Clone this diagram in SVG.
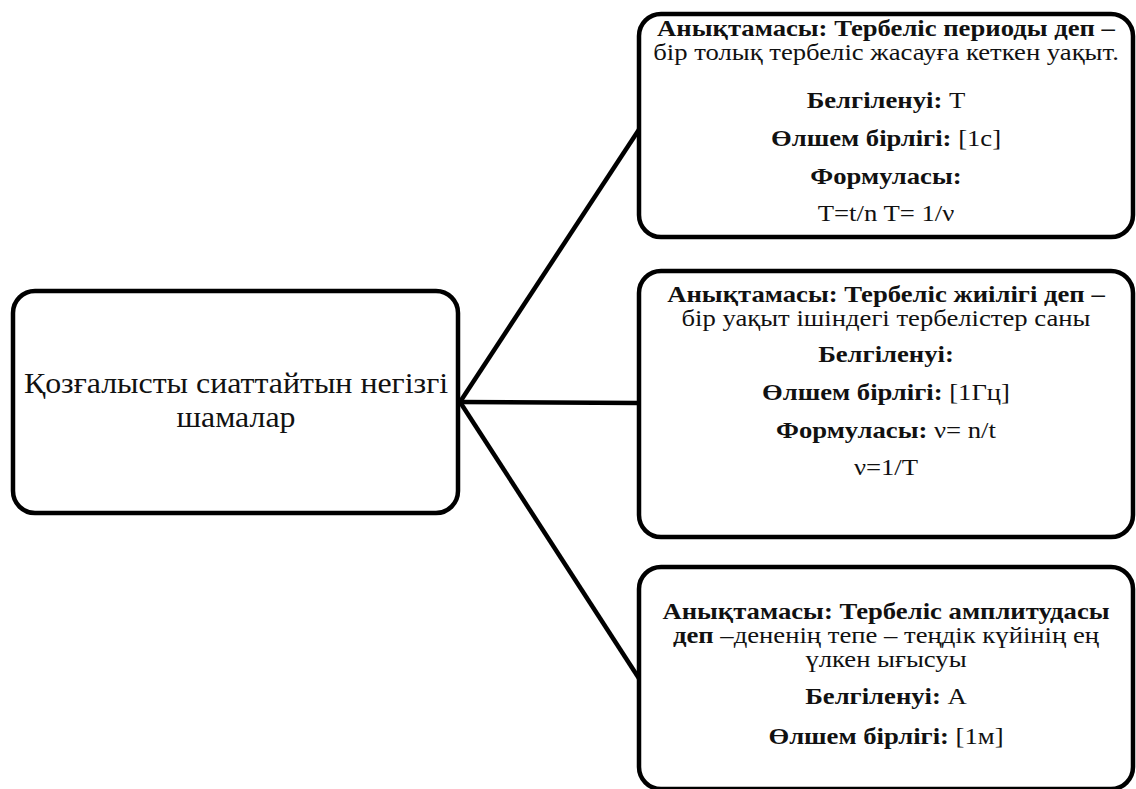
<svg xmlns="http://www.w3.org/2000/svg" width="1136" height="789" viewBox="0 0 1136 789">
<style>
.box{fill:#fff;stroke:#000;stroke-width:4.5}
.ln{stroke:#000;stroke-width:4.5;fill:none}
.t{font-family:"Liberation Serif","Times New Roman",serif;fill:#111;text-anchor:middle}
.s{font-size:23px}
.m{font-size:29px}
.b{font-weight:bold}
</style>
<rect width="1136" height="789" fill="#fff"/>
<g id="connectors">
<path class="ln" d="M460 402 L640 128"/>
<path class="ln" d="M460 402 L639 403"/>
<path class="ln" d="M460 402 L640 680"/>
</g>
<g id="node-main">
<rect class="box" x="13" y="291" width="445" height="222" rx="22"/>
<g class="t m" transform="matrix(1.1 0 0 1 -23.6 0)">
<text x="236" y="393">Қозғалысты сиаттайтын негізгі</text>
<text x="236" y="427">шамалар</text>
</g>
</g>
<g id="node-period">
<rect class="box" x="639" y="14" width="494" height="223" rx="22"/>
<g class="t s" transform="matrix(1.16 0 0 1 -141.76 0)">
<text x="886" y="36" class="b">Анықтамасы: Тербеліс периоды деп –</text>
<text x="886" y="60">бір толық тербеліс жасауға кеткен уақыт.</text>
<text x="886" y="108"><tspan class="b">Белгіленуі:</tspan> Т</text>
<text x="886" y="146"><tspan class="b">Өлшем бірлігі:</tspan> [1с]</text>
<text x="886" y="184" class="b">Формуласы:</text>
<text x="886" y="221">T=t/n T= 1/ν</text>
</g>
</g>
<g id="node-frequency">
<rect class="box" x="639" y="271" width="494" height="266" rx="22"/>
<g class="t s" transform="matrix(1.16 0 0 1 -141.76 0)">
<text x="886" y="302" class="b">Анықтамасы: Тербеліс жиілігі деп –</text>
<text x="886" y="326">бір уақыт ішіндегі тербелістер саны</text>
<text x="886" y="362" class="b">Белгіленуі:</text>
<text x="886" y="400"><tspan class="b">Өлшем бірлігі:</tspan> [1Гц]</text>
<text x="886" y="438"><tspan class="b">Формуласы:</tspan>  ν= n/t</text>
<text x="886" y="475">ν=1/T</text>
</g>
</g>
<g id="node-amplitude">
<rect class="box" x="639" y="567" width="494" height="222" rx="22"/>
<g class="t s" transform="matrix(1.16 0 0 1 -141.76 0)">
<text x="886" y="619" class="b">Анықтамасы: Тербеліс амплитудасы</text>
<text x="886" y="643"><tspan class="b">деп</tspan> –дененің тепе – теңдік күйінің ең</text>
<text x="886" y="667">үлкен ығысуы</text>
<text x="886" y="704"><tspan class="b">Белгіленуі:</tspan> А</text>
<text x="886" y="744"><tspan class="b">Өлшем бірлігі:</tspan> [1м]</text>
</g>
</g>
</svg>
